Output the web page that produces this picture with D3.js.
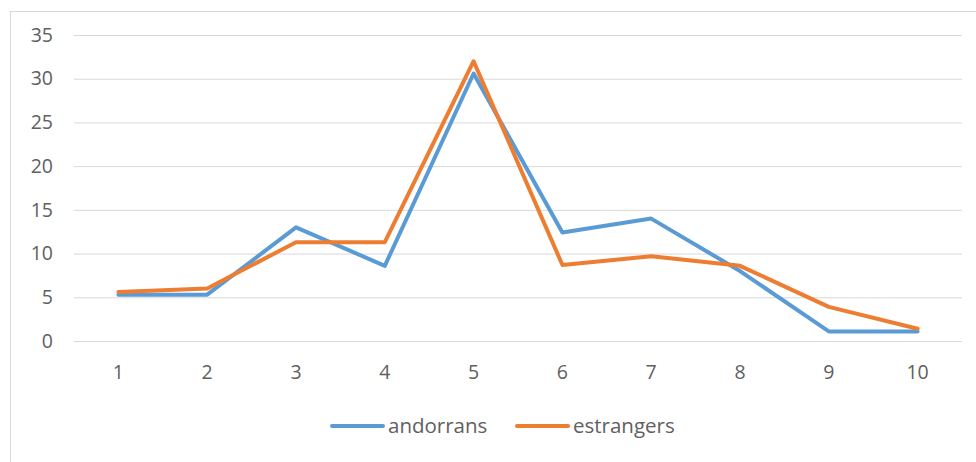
<!DOCTYPE html>
<html><head><meta charset="utf-8">
<script src="https://cdn.jsdelivr.net/npm/d3@7"></script>
<style>body{margin:0;background:#fff;}svg{display:block;}</style>
</head><body><svg id="c" width="976" height="462"></svg>
<script>
const categories = ["1","2","3","4","5","6","7","8","9","10"];
const andorrans = [5.3, 5.3, 13.0, 8.6, 30.6, 12.4, 14.0, 8.0, 1.1, 1.1];
const estrangers = [5.6, 6.0, 11.3, 11.3, 32.0, 8.7, 9.7, 8.6, 3.9, 1.4];
const yTicks = [0,5,10,15,20,25,30,35];
const seriesNames = ["andorrans","estrangers"];
const colors = ["#5B9BD5","#ED7D31"];

const svg = d3.select("#c");
const font = "'Open Sans', sans-serif";
svg.append("rect").attr("x",10.5).attr("y",11.5).attr("width",1000).attr("height",500)
  .attr("fill","#fff").attr("stroke","#d9d9d9").attr("stroke-width",1);

const L=74, R=962, T=35, B=341;
const x = d3.scaleBand().domain(categories).range([L,R]);
const y = d3.scaleLinear().domain([0,35]).range([B,T]);

const gy = svg.append("g").attr("transform",`translate(${L},0)`)
  .call(d3.axisLeft(y).tickValues(yTicks).tickSize(-(R-L)).tickPadding(21));
gy.select(".domain").remove();
gy.selectAll(".tick line").attr("stroke","#d9d9d9").attr("stroke-width",1);
gy.selectAll(".tick text").attr("fill","#606060").style("font-family",font).style("font-size","19.5px");

const gx = svg.append("g").attr("transform",`translate(0,${B})`)
  .call(d3.axisBottom(x).tickSize(0).tickPadding(24));
gx.select(".domain").remove();
gx.selectAll(".tick text").attr("fill","#606060").style("font-family",font).style("font-size","19.5px");

const line = d3.line().x((d,i)=>x(categories[i])+x.bandwidth()/2).y(d=>y(d));
[andorrans, estrangers].forEach((s,i)=>{
  svg.append("path").datum(s).attr("d",line).attr("fill","none")
    .attr("stroke",colors[i]).attr("stroke-width",4).attr("stroke-linejoin","round").attr("stroke-linecap","round");
});

const legX=[332,517];
seriesNames.forEach((n,i)=>{
  const g = svg.append("g").attr("transform",`translate(${legX[i]},426)`);
  g.append("line").attr("x1",0).attr("x2",51).attr("stroke",colors[i]).attr("stroke-width",4).attr("stroke-linecap","round");
  g.append("text").attr("x",56).attr("y",0).attr("dy","0.35em").text(n).attr("fill","#606060")
    .style("font-family",font).style("font-size","20.5px");
});
</script></body></html>
